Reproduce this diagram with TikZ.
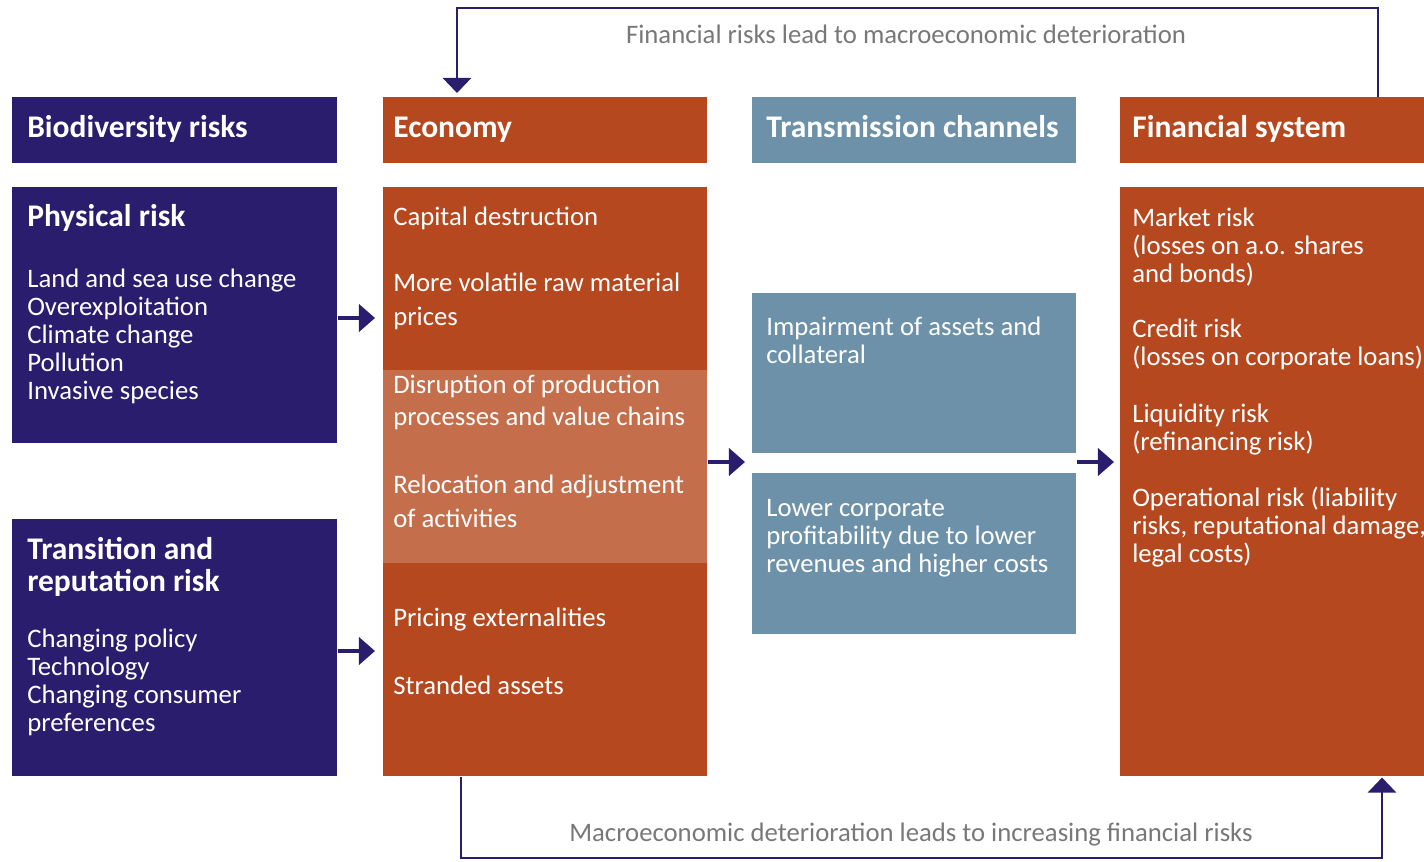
\documentclass[tikz,border=0pt]{standalone}
\usepackage{fontspec}
\setmainfont{Carlito}
\usetikzlibrary{positioning,arrows.meta}
\definecolor{navy}{RGB}{42,29,110}
\definecolor{rust}{RGB}{181,72,30}
\definecolor{rustlight}{RGB}{196,110,76}
\definecolor{steel}{RGB}{108,145,168}
\definecolor{labelgrey}{RGB}{120,120,120}
\newlength\pix
\setlength\pix{0.025cm}
\begin{document}
\begin{tikzpicture}
  [x=\pix,y=-\pix
  ,box/.style={rectangle,anchor=north west,inner sep=0pt,minimum width=324\pix}
  ,head/.style={box,minimum height=66\pix}
  ,hdtext/.style={anchor=base west,inner sep=0pt,text=white,font=\bfseries\fontsize{22.4}{24}\selectfont}
  ,item/.style={anchor=north west,inner sep=0pt,align=left,text=white,font=\fontsize{19}{19.9}\selectfont,execute at begin node=\strut}
  ,wide/.style={item,font=\fontsize{19}{24.2}\selectfont}
  ,title/.style={item,font=\bfseries\fontsize{22.4}{22.8}\selectfont}
  ,flow/.style={-{Triangle[length=11.4pt,width=19.2pt]},line width=3.2pt,draw=navy}
  ,loop/.style={-{Triangle[length=10.7pt,width=20pt]},line width=2pt,draw=navy}
  ,note/.style={anchor=base,inner sep=0pt,text=labelgrey,font=\fontsize{19}{20}\selectfont}]
\useasboundingbox (0,0) rectangle (1424,861);
% column heads
\node at (12,97)   (biohd)   [head,minimum width=325\pix,fill=navy] {};
\node at (383,97)  (econhd)  [head,fill=rust] {};
\node at (752,97)  (transhd) [head,fill=steel] {};
\node at (1120,97) (finhd)   [head,minimum width=304\pix,fill=rust] {};
\node at (27,137)   (biot)   [hdtext] {Biodiversity risks};
\node at (393,137)  (econt)  [hdtext] {Economy};
\node at (766,137)  (transt) [hdtext] {Transmission channels};
\node at (1132,137) (fint)   [hdtext] {Financial system};
% biodiversity risks
\node at (12,187) (phys)  [box,minimum width=325\pix,minimum height=256\pix,fill=navy] {};
\node at (12,519) (trans) [box,minimum width=325\pix,minimum height=257\pix,fill=navy] {};
\node at (27,204) (physt) [title] {Physical risk};
\node at (27,269) (physl) [item] {Land and sea use change\\Overexploitation\\Climate change\\Pollution\\Invasive species};
\node at (27,537) (transt2) [title] {Transition and\\reputation risk};
\node at (27,629) (transl) [item] {Changing policy\\Technology\\Changing consumer\\preferences};
% economy
\node at (383,187) (econ) [box,minimum height=589\pix,fill=rust] {};
\node at (383,370) (band) [box,minimum height=193\pix,fill=rustlight] {};
\node at (393,201) (e1) [wide] {Capital destruction};
\node at (393,273) (e2) [wide] {More volatile raw material\\prices};
\node at (393,375) (e3) [wide,font=\fontsize{19}{22.8}\selectfont] {Disruption of production\\processes and value chains};
\node at (393,475) (e4) [wide] {Relocation and adjustment\\of activities};
\node at (393,602) (e5) [wide] {Pricing externalities};
\node at (393,670) (e6) [wide] {Stranded assets};
% transmission channels
\node at (752,293) (imp) [box,minimum height=160\pix,fill=steel] {};
\node at (752,473) (low) [box,minimum height=161\pix,fill=steel] {};
\node at (766,317) (impt) [item] {Impairment of assets and\\collateral};
\node at (766,499) (lowt) [item] {Lower corporate\\profitability due to lower\\revenues and higher costs};
% financial system
\node at (1120,187) (fin) [box,minimum width=304\pix,minimum height=589\pix,fill=rust] {};
\node at (1132,208) (f1) [item] {Market risk\\(losses on a.o. shares\\and bonds)};
\node at (1132,319) (f2) [item] {Credit risk\\(losses on corporate loans)};
\node at (1132,404) (f3) [item] {Liquidity risk\\(refinancing risk)};
\node at (1132,487) (f4) [item] {Operational risk (liability\\risks, reputational damage,\\legal costs)};
% arrows
\coordinate (gap) at (0,462);
\coordinate (up) at (0,318);
\coordinate (down) at (0,651);
\draw [flow,shorten >=0.2cm] (phys.east |- up)    -- (econ.west |- up);
\draw [flow,shorten >=0.2cm] (trans.east |- down) -- (econ.west |- down);
\draw [flow,shorten >=0.175cm] (econ.east |- gap) -- (imp.west |- gap);
\draw [flow,shorten >=0.15cm] (imp.east |- gap)  -- (fin.west |- gap);
% feedback loops
\coordinate (tr) at (1378,8);
\coordinate (tl) at (457,8);
\coordinate (bl) at (461,858);
\coordinate (br) at (1382,858);
\draw [loop,shorten >=0.1cm] (finhd.north -| tr) -- (tr) -- (tl) -- (econhd.north -| tl);
\draw [loop,shorten >=0.025cm] (econ.south -| bl) -- (bl) -- (br) -- (fin.south -| br);
\node at (906,43)  (toplbl) [note] {Financial risks lead to macroeconomic deterioration};
\node at (911,841) (botlbl) [note] {Macroeconomic deterioration leads to increasing financial risks};
\end{tikzpicture}
\end{document}
